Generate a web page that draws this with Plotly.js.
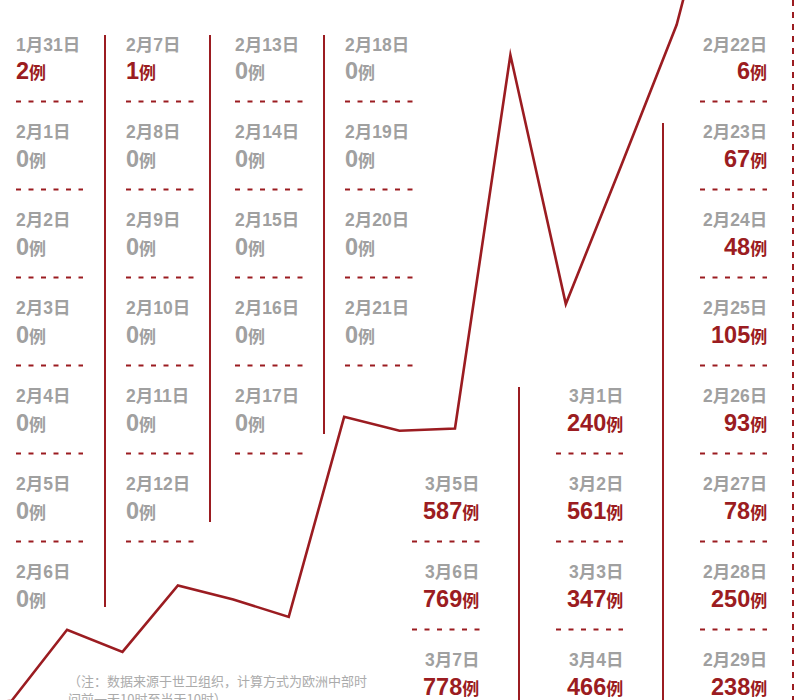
<!DOCTYPE html>
<html>
<head>
<meta charset="utf-8">
<script src="https://cdn.plot.ly/plotly-3.0.1.min.js"></script>
<style>
html,body{margin:0;padding:0;background:#fff;}
#chart{width:803px;height:700px;}
path.js-line{stroke-linejoin:miter;stroke-miterlimit:12;}
</style>
</head>
<body>
<div id="chart"></div>
<script>
// ---- data ----
const dates = ['1月31日','2月1日','2月2日','2月3日','2月4日','2月5日','2月6日',
  '2月7日','2月8日','2月9日','2月10日','2月11日','2月12日',
  '2月13日','2月14日','2月15日','2月16日','2月17日',
  '2月18日','2月19日','2月20日','2月21日',
  '2月22日','2月23日','2月24日','2月25日','2月26日','2月27日','2月28日','2月29日',
  '3月1日','3月2日','3月3日','3月4日',
  '3月5日','3月6日','3月7日'];
const cases = [2,0,0,0,0,0,0,
  1,0,0,0,0,0,
  0,0,0,0,0,
  0,0,0,0,
  6,67,48,105,93,78,250,238,
  240,561,347,466,
  587,769,778];
const unit = '例';
const noteLines = ['（注：数据来源于世卫组织，计算方式为欧洲中部时', '间前一天10时至当天10时）'];

// ---- style / layout helpers ----
const RED = '#9b1c21', GRAY = '#a0a0a0';
const FONT = 'Liberation Sans, Noto Sans CJK SC, sans-serif';
const W = 803, H = 700;
const px = x => x / W, py = y => 1 - y / H;
const rowY = r => 44.5 + 87.9 * r;
const sepY = r => 101.5 + 88 * r;

const cols = [
  {from:0,  to:6,  x:16,  align:'left',  row0:0, seps:[0,1,2,3,4,5], dash:[16,83]},
  {from:7,  to:12, x:126, align:'left',  row0:0, seps:[0,1,2,3,4,5], dash:[126,194]},
  {from:13, to:17, x:235, align:'left',  row0:0, seps:[0,1,2,3,4],   dash:[235,303]},
  {from:18, to:21, x:345, align:'left',  row0:0, seps:[0,1,2,3],     dash:[345,413]},
  {from:22, to:29, x:767, align:'right', row0:0, seps:[0,1,2,3,4,5,6], dash:[700,767]},
  {from:30, to:33, x:623, align:'right', row0:4, seps:[4,5,6],       dash:[556,623]},
  {from:34, to:36, x:479, align:'right', row0:5, seps:[5,6],         dash:[412,480]}
];

const annotations = [];
const shapes = [];
cols.forEach(c => {
  const ax = c.align === 'left' ? c.x - 2 : c.x + 2;
  for (let i = c.from; i <= c.to; i++) {
    const r = c.row0 + (i - c.from);
    annotations.push({
      text: '<b>' + dates[i] + '</b>', x: px(ax), y: py(rowY(r)),
      xref:'paper', yref:'paper', xanchor:c.align, yanchor:'middle', showarrow:false,
      font:{size:17.5, color:GRAY, family:FONT}
    });
    annotations.push({
      text: '<b>' + cases[i] + '<span style="font-size:17px">' + unit + '</span></b>',
      x: px(ax), y: py(rowY(r) + 27),
      xref:'paper', yref:'paper', xanchor:c.align, yanchor:'middle', showarrow:false,
      font:{size:23.5, color: cases[i] > 0 ? RED : GRAY, family:FONT}
    });
  }
  c.seps.forEach(r => {
    shapes.push({type:'line', xref:'paper', yref:'paper',
      x0:px(c.dash[0]), x1:px(c.dash[1]), y0:py(sepY(r)), y1:py(sepY(r)),
      line:{color:RED, width:2, dash:'5px,7.5px'}});
  });
});

// vertical dividers
[[105,35,607],[210,35,522],[324,35,434],[519,387,700],[663,123,700]].forEach(v => {
  shapes.push({type:'line', xref:'paper', yref:'paper', x0:px(v[0]), x1:px(v[0]),
    y0:py(v[1]), y1:py(v[2]), line:{color:RED, width:2}});
});
shapes.push({type:'line', xref:'paper', yref:'paper', x0:px(793), x1:px(793),
  y0:py(0), y1:py(700), line:{color:RED, width:2, dash:'6px,6px'}});

noteLines.forEach((t, k) => {
  annotations.push({
    text: t, x: px(66), y: py(680 + 18 * k), xref:'paper', yref:'paper',
    xanchor:'left', yanchor:'middle', align:'left', showarrow:false,
    font:{size:13, color:'#ababab', family:'Noto Sans CJK SC, sans-serif'}
  });
});

const trace = {
  x: dates, y: cases, type:'scatter', mode:'lines',
  line:{color:RED, width:2.6}, hoverinfo:'skip'
};

const layout = {
  width: W, height: H,
  margin:{l:0,r:0,t:0,b:0,pad:0},
  paper_bgcolor:'#fff', plot_bgcolor:'#fff',
  showlegend:false,
  xaxis:{type:'category', range:[21.79, 36.28], visible:false, fixedrange:true},
  yaxis:{range:[6.6, 608.3], visible:false, fixedrange:true},
  annotations, shapes
};

Plotly.newPlot('chart', [trace], layout, {displayModeBar:false, staticPlot:true});
</script>
</body>
</html>
